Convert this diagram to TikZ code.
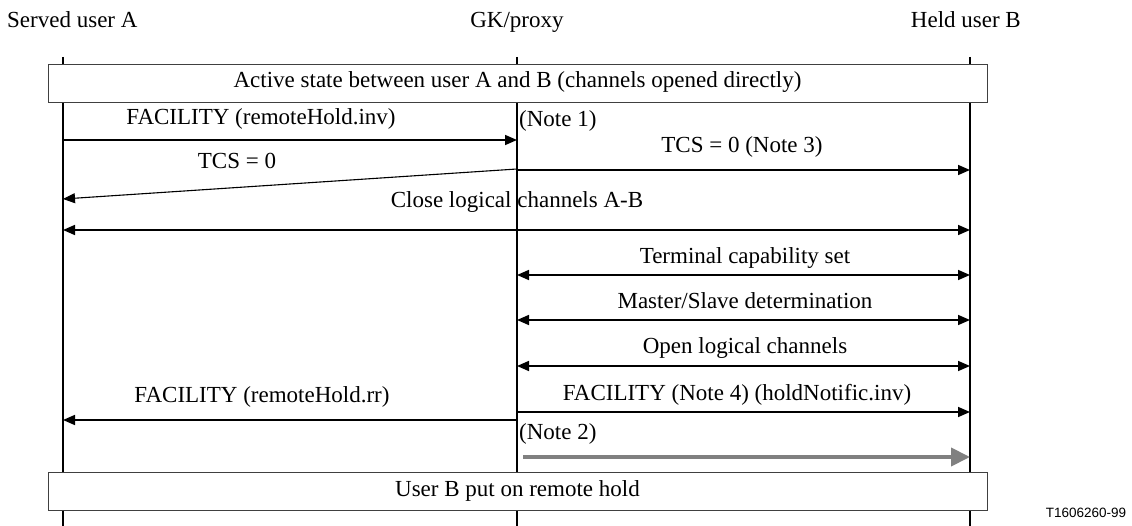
\documentclass[tikz,border=0pt]{standalone}
\usepackage{fontspec}
\setmainfont{Liberation Serif}
\newfontfamily\labsans{Liberation Sans}
\usetikzlibrary{arrows.meta}
\tikzset{
  x=1pt,y=-1pt,
  lbl/.style={font=\fontsize{23}{26}\selectfont, inner sep=0pt, anchor=base},
  lifeline/.style={line width=1.6pt},
  msg/.style={line width=1.6pt, -{Triangle[length=12pt,width=10pt]}},
  dmsg/.style={line width=1.6pt, {Triangle[length=12pt,width=10pt]}-{Triangle[length=12pt,width=10pt]}},
  thinmsg/.style={line width=1.1pt, -{Triangle[length=12pt,width=10pt]}},
  greymsg/.style={line width=4pt, draw=gray, -{Triangle[length=19pt,width=18pt]}},
  statebox/.style={draw=black!75, line width=0.9pt, fill=white, minimum width=939pt, minimum height=38pt, inner sep=0pt, text height=15pt, text depth=5pt, font=\fontsize{23}{26}\selectfont}
}
\begin{document}
\begin{tikzpicture}
\useasboundingbox (0,0) rectangle (1132,526);
% headers
\node[lbl, anchor=base west] (hA) at (7,28) {Served user A};
\node[lbl] (hG) at (517,28) {GK/proxy};
\node[lbl, anchor=base east] (hB) at (1021,28) {Held user B};
% lifelines
\coordinate (Atop) at (63,57); \coordinate (Abot) at (63,526);
\coordinate (Gtop) at (517,57); \coordinate (Gbot) at (517,526);
\coordinate (Btop) at (970,57); \coordinate (Bbot) at (970,526);
\draw[lifeline] (Atop) -- (Abot);
\draw[lifeline] (Gtop) -- (Gbot);
\draw[lifeline] (Btop) -- (Bbot);
% state boxes
\node[statebox] (s1) at (517.5,83) {Active state between user A and B (channels opened directly)};
\node[statebox] (s2) at (517.5,491.5) {User B put on remote hold};
% message endpoints
\coordinate (a1) at (63,140); \coordinate (g1) at (517,140);
\coordinate (g2) at (517,170); \coordinate (b2) at (970,170);
\coordinate (g3) at (517,169); \coordinate (a3) at (63,199);
\coordinate (a4) at (63,230); \coordinate (b4) at (970,230);
\coordinate (g5) at (517,275); \coordinate (b5) at (970,275);
\coordinate (g6) at (517,320); \coordinate (b6) at (970,320);
\coordinate (g7) at (517,366); \coordinate (b7) at (970,366);
\coordinate (g8) at (517,420); \coordinate (a8) at (63,420);
\coordinate (g9) at (517,412); \coordinate (b9) at (970,412);
\coordinate (g10) at (523,457); \coordinate (b10) at (970,457);
% messages
\draw[msg] (a1) -- (g1);
\draw[msg] (g2) -- (b2);
\draw[thinmsg] (g3) -- (a3);
\draw[dmsg] (a4) -- (b4);
\draw[dmsg] (g5) -- (b5);
\draw[dmsg] (g6) -- (b6);
\draw[dmsg] (g7) -- (b7);
\draw[msg] (g8) -- (a8);
\draw[msg] (g9) -- (b9);
\draw[greymsg] (g10) -- (b10);
% labels
\node[lbl] (l1) at (261,125) {FACILITY (remoteHold.inv)};
\node[lbl, anchor=base west] (n1) at (519,127) {(Note 1)};
\node[lbl] (l2) at (742,153) {TCS = 0 (Note 3)};
\node[lbl] (l3) at (237,169) {TCS = 0};
\node[lbl] (l4) at (517,208) {Close logical channels A-B};
\node[lbl] (l5) at (745,264) {Terminal capability set};
\node[lbl] (l6) at (745,309) {Master/Slave determination};
\node[lbl] (l7) at (745,353) {Open logical channels};
\node[lbl] (l8) at (262,402) {FACILITY (remoteHold.rr)};
\node[lbl] (l9) at (737,400) {FACILITY (Note 4) (holdNotific.inv)};
\node[lbl, anchor=base west] (n2) at (519,439) {(Note 2)};
\node[font=\labsans\fontsize{13.5}{15}\selectfont, inner sep=0pt] (ref) at (1086,513) {T1606260-99};
\end{tikzpicture}
\end{document}
